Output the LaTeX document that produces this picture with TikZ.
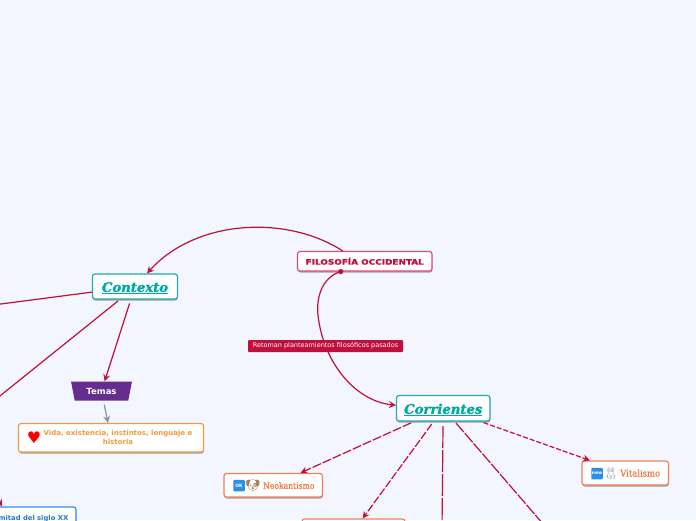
\documentclass[tikz,border=0pt]{standalone}
\usepackage{fontspec}
\usetikzlibrary{arrows.meta,shapes.geometric,shadows}
\newfontfamily\fwide[FakeStretch=1.2,FakeBold=1.6]{DejaVu Sans Bold}
\newfontfamily\fhead[FakeBold=1.6]{DejaVu Serif Bold Italic}
\newfontfamily\fbody{DejaVu Sans}
\newfontfamily\fbold{DejaVu Sans Bold}
\newfontfamily\fslab[FakeBold=.2]{DejaVu Serif Condensed}
\newfontfamily\femoji{Noto Emoji}
\definecolor{bgc}{HTML}{F4F6FF}
\definecolor{linkc}{HTML}{C10E3B}
\definecolor{tealc}{HTML}{22A9AF}
\definecolor{tealt}{HTML}{00A9A5}
\definecolor{pinkc}{HTML}{E5497A}
\definecolor{orgc}{HTML}{F39A3E}
\definecolor{corc}{HTML}{EE8254}
\definecolor{cort}{HTML}{F2753F}
\definecolor{bluec}{HTML}{2B8FEA}
\definecolor{purc}{HTML}{662D91}
\definecolor{grayl}{HTML}{8C90A0}
\definecolor{dogc}{HTML}{A8805A}
\tikzset{
  box/.style={rectangle,rounded corners=2.5pt,fill=white,line width=1.2pt,inner sep=0pt,align=center,
    drop shadow={shadow xshift=.4pt,shadow yshift=-1.5pt,fill=black!65,opacity=.55}},
  tealbox/.style={box,draw=tealc,text=tealt,font=\fhead\fontsize{13.2}{14}\selectfont},
  corbox/.style={box,draw=corc,text=cort,font=\fslab\fontsize{8.5}{10}\selectfont},
  link/.style={draw=linkc,line width=1.2pt,-{Stealth[length=7pt,width=7pt,inset=2.5pt]}},
  plainlink/.style={draw=linkc,line width=1.2pt},
  badge/.style={fill=bluec,text=white,rounded corners=1pt,inner sep=0pt,minimum size=11.5pt,font=\fbold\fontsize{4.5}{5}\selectfont},
  emo/.style={inner sep=0pt,text=#1,font=\femoji\fontsize{11.5}{12}\selectfont}
}
\begin{document}
\begin{tikzpicture}[x=1pt,y=-1pt]
\useasboundingbox (0,0) rectangle (696,520);
\clip (0,0) rectangle (696,520);
\fill[bgc] (0,0) rectangle (696,520);
% nodes
\node[box,draw=pinkc,text=linkc,minimum width=134.5pt,minimum height=19.5pt,font=\fwide\fontsize{7.4}{9}\selectfont] (fil) at (364.75,261.25) {FILOSOFÍA OCCIDENTAL};
\node[tealbox,minimum width=85pt,minimum height=25pt,text depth=0pt] (ctx) at (135,286.5) {\raisebox{-1pt}{\underline{Contexto}}};
\node[tealbox,minimum width=93.5pt,minimum height=25.5pt,text depth=0pt] (cor) at (443.25,408.25) {\raisebox{-1pt}{\underline{Corrientes}}};
\node[trapezium,shape border rotate=180,trapezium stretches=true,trapezium left angle=72,trapezium right angle=72,fill=purc,text=white,inner sep=0pt,minimum width=61pt,minimum height=19pt,font=\fbold\fontsize{8.5}{10}\selectfont] (tem) at (101.5,391) {Temas};
\node[box,draw=orgc,text=orgc,minimum width=185pt,minimum height=28.5pt] (vid) at (111,437.75) {};
\node[text=orgc,inner sep=0pt,align=center,font=\fbold\fontsize{7}{9}\selectfont] (vidt) at (118,437.5) {Vida, existencia, instintos, lenguaje e\\historia};
\node[inner sep=0pt,text=red,font=\fbody\fontsize{16}{16}\selectfont] (heart) at (34,437.5) {♥};
\node[corbox,minimum width=98.5pt,minimum height=23.5pt] (neo) at (273.25,485.25) {};
\node[badge] (okb) at (239,485.5) {OK};
\node[emo={dogc}] (dog) at (253,485.5) {🐶};
\node[inner sep=0pt,anchor=west,text=cort,font=\fslab\fontsize{8.5}{10}\selectfont] (neot) at (263,485.5) {Neokantismo};
\node[corbox,minimum width=86.5pt,minimum height=24pt] (vit) at (625.25,473) {};
\node[badge] (newb) at (597,473.5) {new};
\node[emo={gray!70}] (rab) at (611,473.5) {🐰};
\node[inner sep=0pt,anchor=west,text=cort,font=\fslab\fontsize{9.4}{10}\selectfont] (vitt) at (620,473) {Vitalismo};
\node[corbox,minimum width=103pt,minimum height=24pt] (low) at (353.5,531) {};
\node[box,draw=bluec,text=bluec!85!black,minimum width=130pt,minimum height=30pt,font=\fbold\fontsize{6.8}{8}\selectfont] (sig) at (11,522) {};
\node[anchor=east,inner sep=0pt,text=bluec!85!black,font=\fbold\fontsize{6.8}{8}\selectfont] (sigt) at (68.5,518.5) {Primera mitad del siglo XX};
% free ends
\coordinate (offa) at (-30,308);
\coordinate (offb) at (-30,420);
\coordinate (offc) at (442,530);
\coordinate (offd) at (550,532);
\coordinate (offe) at (-5,494);
% connectors
\draw[link] ([xshift=-22pt]fil.north) .. controls (285,214) and (195,220) .. ([xshift=12pt]ctx.north);
\draw[plainlink] (ctx) -- (offa);
\draw[plainlink] (118,301) -- (offb);
\draw[link,shorten <=4pt] (ctx) -- (tem);
\draw[link,draw=grayl,shorten <=4pt] (tem) -- (vid);
\draw[linkc,line width=1.2pt,-{Stealth[length=7pt,width=7pt,inset=2.5pt]}] ([xshift=-24pt]fil.south) .. controls (322,277) and (316,298) .. (318,315) .. controls (323,362) and (355,401) .. ([yshift=3pt]cor.west);
\fill[linkc] ([xshift=-24pt]fil.south) circle (2.6pt);
\draw[link,dash pattern=on 9pt off 2pt,shorten <=3pt] (cor) -- (neo);
\draw[link,dash pattern=on 8pt off 2pt,shorten <=3pt] (cor) -- (low);
\draw[plainlink,dash pattern=on 22pt off 2pt] (443,426) -- (offc);
\draw[plainlink,dash pattern=on 12pt off 1.5pt] (456,423) -- (offd);
\draw[link,dash pattern=on 5pt off 2pt,shorten <=3pt] (cor) -- (vit);
\draw[link] (offe) -- (sig);
% connector label
\node[fill=linkc,text=white,rounded corners=1pt,inner sep=0pt,minimum width=155pt,minimum height=12pt,font=\fbody\fontsize{6.5}{7}\selectfont] (lab) at (325.5,346) {Retoman planteamientos filosóficos pasados};
\end{tikzpicture}
\end{document}
